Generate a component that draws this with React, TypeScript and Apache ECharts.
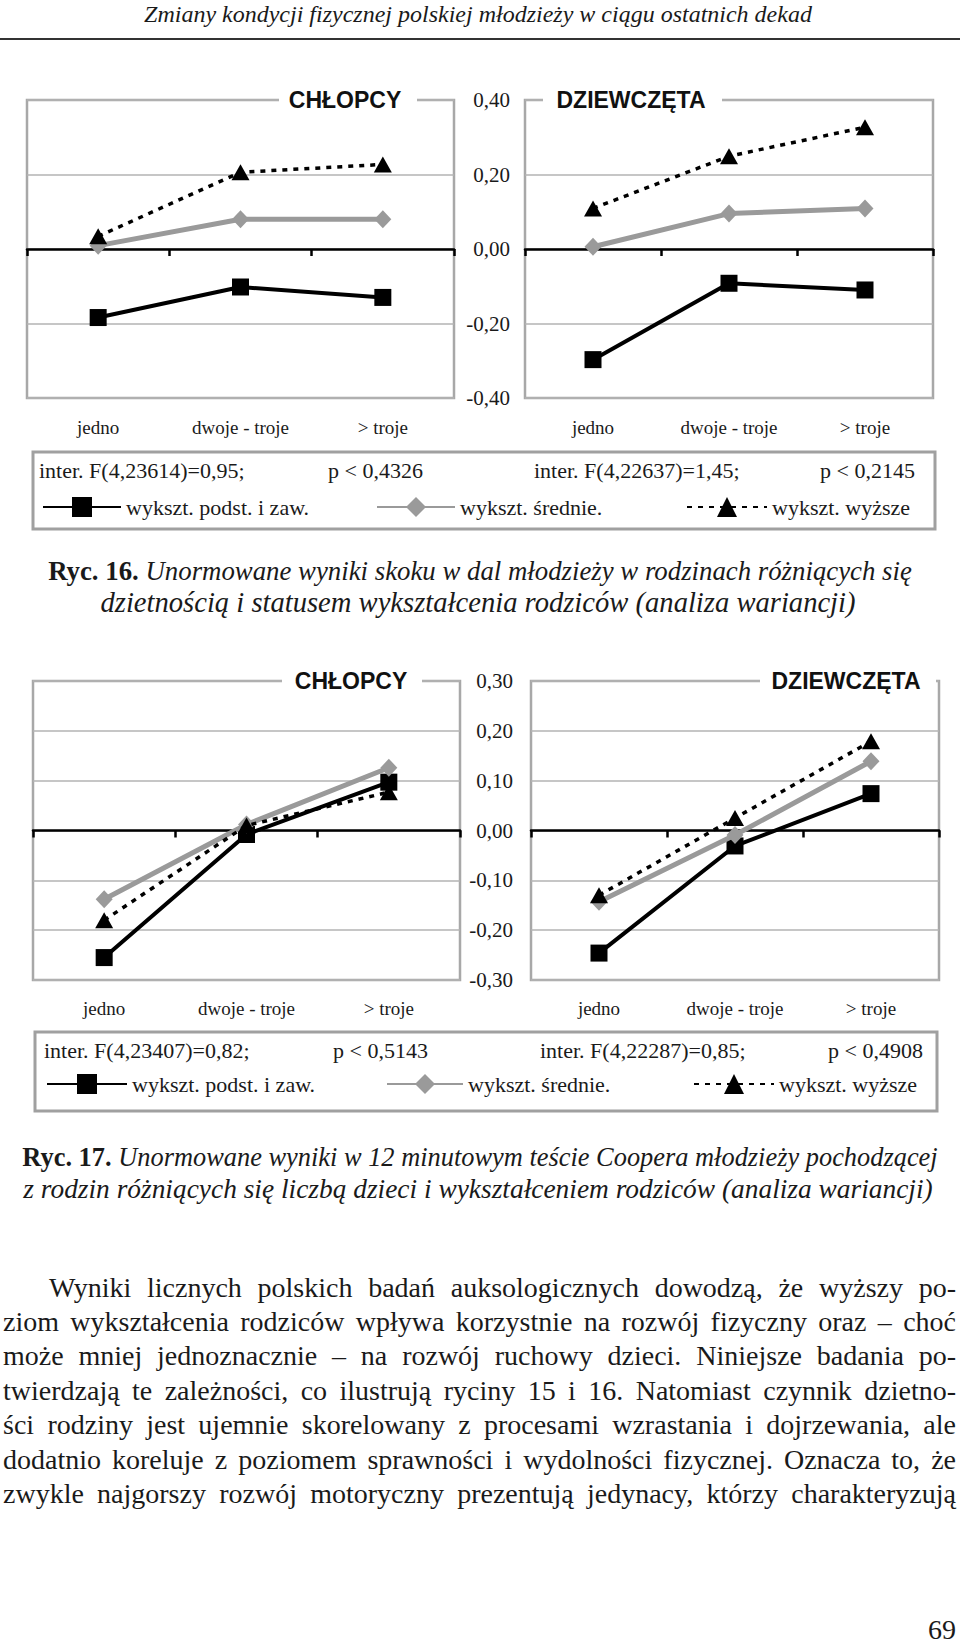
import React, { useEffect, useRef } from 'react';
import * as echarts from 'echarts';

// ---------- data ----------
const categories = ['jedno', 'dwoje - troje', '> troje'];
const seriesNames = ['wykszt. podst. i zaw.', 'wykszt. średnie.', 'wykszt. wyższe'];

// Ryc. 16 – skok w dal
const jumpBoysPodst = [-0.184, -0.102, -0.130];
const jumpBoysSred = [0.009, 0.080, 0.080];
const jumpBoysWyz = [0.034, 0.206, 0.227];
const jumpGirlsPodst = [-0.297, -0.092, -0.110];
const jumpGirlsSred = [0.006, 0.095, 0.109];
const jumpGirlsWyz = [0.109, 0.249, 0.327];

// Ryc. 17 – test Coopera
const cooperBoysPodst = [-0.255, -0.008, 0.097];
const cooperBoysSred = [-0.138, 0.012, 0.126];
const cooperBoysWyz = [-0.180, 0.010, 0.077];
const cooperGirlsPodst = [-0.246, -0.031, 0.074];
const cooperGirlsSred = [-0.143, -0.009, 0.139];
const cooperGirlsWyz = [-0.130, 0.025, 0.179];

const jumpAxis = { min: -0.4, max: 0.4, interval: 0.2 };
const cooperAxis = { min: -0.3, max: 0.3, interval: 0.1 };

const panelTitles = ['CHŁOPCY', 'DZIEWCZĘTA', 'CHŁOPCY', 'DZIEWCZĘTA'];
const statsFig16 = ['inter. F(4,23614)=0,95;', 'p < 0,4326', 'inter. F(4,22637)=1,45;', 'p < 0,2145'];
const statsFig17 = ['inter. F(4,23407)=0,82;', 'p < 0,5143', 'inter. F(4,22287)=0,85;', 'p < 0,4908'];

const headerText = 'Zmiany kondycji fizycznej polskiej młodzieży w ciągu ostatnich dekad';
const caption16 = ['Ryc. 16.', 'Unormowane wyniki skoku w dal młodzieży w rodzinach różniących się', 'dzietnością i statusem wykształcenia rodziców (analiza wariancji)'];
const caption17 = ['Ryc. 17.', 'Unormowane wyniki w 12 minutowym teście Coopera młodzieży pochodzącej', 'z rodzin różniących się liczbą dzieci i wykształceniem rodziców (analiza wariancji)'];
const bodyLines = [
  'Wyniki licznych polskich badań auksologicznych dowodzą, że wyższy po-',
  'ziom wykształcenia rodziców wpływa korzystnie na rozwój fizyczny oraz – choć',
  'może mniej jednoznacznie – na rozwój ruchowy dzieci. Niniejsze badania po-',
  'twierdzają te zależności, co ilustrują ryciny 15 i 16. Natomiast czynnik dzietno-',
  'ści rodziny jest ujemnie skorelowany z procesami wzrastania i dojrzewania, ale',
  'dodatnio koreluje z poziomem sprawności i wydolności fizycznej. Oznacza to, że',
  'zwykle najgorszy rozwój motoryczny prezentują jedynacy, którzy charakteryzują',
];
const pageNumber = '69';

// ---------- styling ----------
const SERIF = 'Liberation Serif';
const SANS = 'Liberation Sans';
const INK = '#1a1a1a';
const GRAY = '#9a9a9a';
const BOX = '#a8a8a8';

const grids = [
  { left: 27, top: 100, width: 427, height: 298 },
  { left: 525, top: 100, width: 408, height: 298 },
  { left: 33, top: 681, width: 427, height: 299 },
  { left: 531, top: 681, width: 408, height: 299 },
];

const panelData = [
  [jumpBoysPodst, jumpBoysSred, jumpBoysWyz],
  [jumpGirlsPodst, jumpGirlsSred, jumpGirlsWyz],
  [cooperBoysPodst, cooperBoysSred, cooperBoysWyz],
  [cooperGirlsPodst, cooperGirlsSred, cooperGirlsWyz],
];

function fmt(v: number) {
  return v.toFixed(2).replace('.', ',');
}

function buildOption() {
  const xAxis: any[] = [];
  const yAxis: any[] = [];
  const series: any[] = [];
  grids.forEach((g, i) => {
    const isJump = i < 2;
    const ax = isJump ? jumpAxis : cooperAxis;
    const showLabels = i % 2 === 1;
    xAxis.push({
      type: 'category', gridIndex: i, data: categories, position: 'bottom',
      axisLine: { onZero: true, lineStyle: { color: '#000', width: 2.5 } },
      axisTick: { show: true, length: 7, lineStyle: { color: '#000', width: 2.5 } },
      axisLabel: { show: false }, splitLine: { show: false },
    });
    xAxis.push({
      type: 'category', gridIndex: i, data: categories, position: 'bottom',
      axisLine: { show: false, onZero: false }, axisTick: { show: false },
      axisLabel: { show: true, margin: isJump ? 20 : 18.5, fontFamily: SERIF, fontSize: 19, color: INK },
      splitLine: { show: false },
    });
    yAxis.push({
      type: 'value', gridIndex: i, min: ax.min, max: ax.max, interval: ax.interval,
      axisLine: { show: false }, axisTick: { show: false },
      splitLine: { show: true, lineStyle: { color: '#b3b3b3', width: 1.5 } },
      axisLabel: {
        show: showLabels, margin: isJump ? 15 : 18, fontFamily: SERIF, fontSize: 21, color: INK,
        formatter: (v: number) => fmt(v),
      },
    });
    const [podst, sred, wyz] = panelData[i];
    series.push({
      type: 'line', name: seriesNames[0], xAxisIndex: 2 * i, yAxisIndex: i, data: podst,
      symbol: 'rect', symbolSize: 17, itemStyle: { color: '#000' },
      lineStyle: { color: '#000', width: 4 }, z: 3,
    });
    series.push({
      type: 'line', name: seriesNames[1], xAxisIndex: 2 * i, yAxisIndex: i, data: sred,
      symbol: 'diamond', symbolSize: [17, 18], itemStyle: { color: GRAY },
      lineStyle: { color: GRAY, width: 5 }, z: 4,
    });
    series.push({
      type: 'line', name: seriesNames[2], xAxisIndex: 2 * i, yAxisIndex: i, data: wyz,
      symbol: 'triangle', symbolSize: [18, 16], itemStyle: { color: '#000' },
      lineStyle: { color: '#000', width: 3.5, type: [5, 6] }, z: 5,
    });
  });

  const legendText = { fontFamily: SERIF, fontSize: 22, color: INK };
  const legendDefs = [
    { name: seriesNames[0], left: 42, top: 496, w: 78 },
    { name: seriesNames[1], left: 376, top: 496, w: 78 },
    { name: seriesNames[2], left: 686, top: 496, w: 80 },
    { name: seriesNames[0], left: 46, top: 1073, w: 80 },
    { name: seriesNames[1], left: 386, top: 1073, w: 76 },
    { name: seriesNames[2], left: 693, top: 1073, w: 80 },
  ];
  const legend = legendDefs.map((d) => ({
    left: d.left, top: d.top, itemWidth: d.w, itemHeight: 25, padding: 0,
    selectedMode: false, data: [d.name], textStyle: legendText,
  }));

  const graphic: any[] = [];
  const txt = (text: string, x: number, y: number, size: number, extra: any = {}) => ({
    type: 'text', x, y, z: 100,
    style: {
      text, fontFamily: SERIF, fontSize: size, fill: INK,
      align: 'left', verticalAlign: 'middle', textAlign: 'left', textVerticalAlign: 'middle',
      ...extra,
    },
  });

  // header
  graphic.push(txt(headerText, 478, 14, 24, { fontStyle: 'italic', align: 'center', textAlign: 'center' }));
  graphic.push({ type: 'line', z: 100, shape: { x1: 0, y1: 39, x2: 960, y2: 39 }, style: { stroke: '#333', lineWidth: 2 } });

  // panel titles (white patch interrupting the box border)
  const titleDefs = [
    { cx: 345, cy: 100, x0: 279, x1: 417 },
    { cx: 631, cy: 100, x0: 543, x1: 722 },
    { cx: 351, cy: 681, x0: 282, x1: 422 },
    { cx: 846, cy: 681, x0: 760, x1: 936 },
  ];
  titleDefs.forEach((t, i) => {
    graphic.push({ type: 'rect', z: 100, shape: { x: t.x0, y: t.cy - 14, width: t.x1 - t.x0, height: 28 }, style: { fill: '#fff' } });
    graphic.push(txt(panelTitles[i], t.cx, t.cy, 23, { fontFamily: SANS, fontWeight: 'bold', fill: '#111', align: 'center', textAlign: 'center' }));
  });

  // stats boxes
  graphic.push({ type: 'rect', z: 100, shape: { x: 33, y: 452, width: 902, height: 77 }, style: { fill: 'transparent', stroke: '#a0a0a0', lineWidth: 3 } });
  graphic.push({ type: 'rect', z: 100, shape: { x: 35, y: 1032, width: 902, height: 79 }, style: { fill: 'transparent', stroke: '#a0a0a0', lineWidth: 3 } });
  const s16x = [39, 328, 534, 820];
  const s17x = [44, 333, 540, 828];
  statsFig16.forEach((s, i) => graphic.push(txt(s, s16x[i], 470, 22)));
  statsFig17.forEach((s, i) => graphic.push(txt(s, s17x[i], 1050, 22)));

  // captions
  const cap = (c: string[], y1: number, y2: number, size1: number, size2: number) => {
    graphic.push({
      type: 'text', x: 480, y: y1, z: 100,
      style: {
        text: `{b|${c[0]}}{i| ${c[1]}}`, fontFamily: SERIF, fontSize: size1, fill: INK,
        align: 'center', verticalAlign: 'middle', textAlign: 'center', textVerticalAlign: 'middle',
        rich: {
          b: { fontFamily: SERIF, fontSize: size1, fontWeight: 'bold', fill: INK, color: INK },
          i: { fontFamily: SERIF, fontSize: size1, fontStyle: 'italic', fill: INK, color: INK },
        },
      },
    });
    graphic.push(txt(c[2], 478, y2, size2, { fontStyle: 'italic', align: 'center', textAlign: 'center' }));
  };
  cap(caption16, 571, 602, 26.8, 28.6);
  cap(caption17, 1157, 1189, 26.4, 27.4);

  // body text, justified
  const BODY = 28;
  const canvas = document.createElement('canvas');
  const ctx = canvas.getContext('2d')!;
  ctx.font = `${BODY}px "${SERIF}"`;
  bodyLines.forEach((line, i) => {
    const words = line.split(' ');
    const left = i === 0 ? 49 : 3;
    const right = 956;
    const widths = words.map((w) => ctx.measureText(w).width);
    const total = widths.reduce((a, b) => a + b, 0);
    const gap = (right - left - total) / (words.length - 1);
    let x = left;
    const y = 1287 + i * 34.4;
    words.forEach((w, j) => {
      graphic.push(txt(w, x, y, BODY));
      x += widths[j] + gap;
    });
  });

  graphic.push(txt(pageNumber, 956, 1629, 28, { align: 'right', textAlign: 'right' }));

  return {
    animation: false,
    backgroundColor: '#fff',
    grid: grids.map((g) => ({ ...g, show: true, borderColor: BOX, borderWidth: 2.5, backgroundColor: 'transparent', containLabel: false })),
    xAxis, yAxis, series, legend, graphic,
    tooltip: { show: false },
  };
}

export default function App() {
  const ref = useRef<HTMLDivElement>(null);
  useEffect(() => {
    if (!ref.current) return;
    const chart = echarts.init(ref.current, null, { renderer: 'svg' });
    chart.setOption(buildOption() as any);
    return () => chart.dispose();
  }, []);
  return (
    <div
      ref={ref}
      style={{ position: 'absolute', left: 0, top: 0, width: 960, height: 1643, background: '#fff' }}
    />
  );
}
